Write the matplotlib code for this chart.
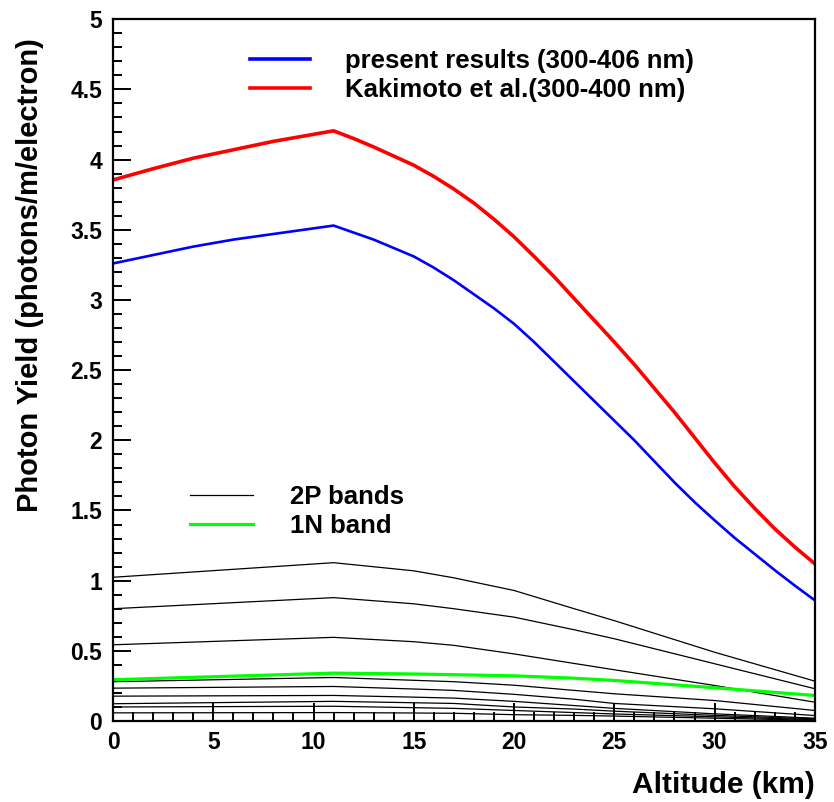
import numpy as np
import matplotlib
matplotlib.use("Agg")
import matplotlib.pyplot as plt
from matplotlib.ticker import MultipleLocator, FuncFormatter

plt.rcParams['font.family'] = ['Liberation Sans', 'DejaVu Sans']
plt.rcParams['font.weight'] = 'bold'

# altitude grid (km) for the total yields
alt = [0, 2, 4, 6, 8, 10, 11, 12, 13, 14, 15, 16, 17, 18, 19, 20, 21, 22,
       23, 24, 25, 26, 27, 28, 29, 30, 31, 32, 33, 34, 35]

present = [3.26, 3.32, 3.38, 3.43, 3.47, 3.51, 3.53, 3.48, 3.43, 3.37, 3.31,
           3.23, 3.14, 3.04, 2.94, 2.83, 2.70, 2.56, 2.42, 2.28, 2.14, 2.00,
           1.85, 1.70, 1.56, 1.43, 1.305, 1.19, 1.075, 0.965, 0.86]

kakimoto = [3.855, 3.935, 4.01, 4.07, 4.13, 4.18, 4.205, 4.15, 4.09, 4.025,
            3.96, 3.88, 3.79, 3.69, 3.575, 3.45, 3.31, 3.165, 3.01, 2.855,
            2.70, 2.54, 2.37, 2.20, 2.02, 1.84, 1.67, 1.515, 1.37, 1.24, 1.12]

# altitude grid (km) for the individual bands
alt_b = [0, 11, 15, 17, 20, 23, 25, 30, 35]

band_1n = [0.294, 0.341, 0.335, 0.33, 0.322, 0.305, 0.289, 0.237, 0.182]

bands_2p = [
    [1.024, 1.128, 1.07, 1.02, 0.93, 0.80, 0.715, 0.49, 0.284],
    [0.80, 0.879, 0.835, 0.80, 0.74, 0.65, 0.586, 0.408, 0.23],
    [0.543, 0.596, 0.565, 0.539, 0.478, 0.41, 0.365, 0.253, 0.134],
    [0.28, 0.31, 0.29, 0.28, 0.255, 0.218, 0.194, 0.146, 0.075],
    [0.234, 0.246, 0.228, 0.218, 0.19, 0.155, 0.125, 0.087, 0.039],
    [0.177, 0.182, 0.17, 0.163, 0.14, 0.11, 0.09, 0.051, 0.02],
    [0.123, 0.14, 0.13, 0.125, 0.10, 0.085, 0.07, 0.04, 0.015],
    [0.10, 0.105, 0.095, 0.09, 0.075, 0.06, 0.05, 0.03, 0.01],
    [0.058, 0.06, 0.057, 0.055, 0.045, 0.04, 0.035, 0.02, 0.005],
]

fig = plt.figure(figsize=(8.34, 8.02), dpi=100)
ax = fig.add_axes([0.1355, 0.101, 0.8415, 0.875])

for i, b in enumerate(bands_2p):
    ax.plot(alt_b, b, color='black', lw=0.9, label='2P bands' if i == 0 else None)
l1n, = ax.plot(alt_b, band_1n, color='#00ff00', lw=2.3, label='1N band')
lp, = ax.plot(alt, present, color='#0000ff', lw=1.9, label='present results (300-406 nm)')
lk, = ax.plot(alt, kakimoto, color='#ff0000', lw=2.6, label='Kakimoto et al.(300-400 nm)')

ax.set_xlim(0, 35)
ax.set_ylim(0, 5)
ax.xaxis.set_major_locator(MultipleLocator(5))
ax.xaxis.set_minor_locator(MultipleLocator(1))
ax.yaxis.set_major_locator(MultipleLocator(0.5))
ax.yaxis.set_minor_locator(MultipleLocator(0.1))
ax.yaxis.set_major_formatter(FuncFormatter(lambda v, p: '%g' % v))
ax.xaxis.set_major_formatter(FuncFormatter(lambda v, p: '%g' % v))
ax.tick_params(which='both', direction='in', top=False, right=False, width=1.4)
ax.tick_params(which='major', length=13)
ax.tick_params(which='minor', length=6.5)
ax.tick_params(axis='y', labelsize=16.5, pad=8)
ax.tick_params(axis='x', labelsize=16.5, pad=7)
for s in ax.spines.values():
    s.set_linewidth(1.6)

fig.text(30 / 834, 1 - 38 / 802, 'Photon Yield (photons/m/electron)', rotation=90,
         ha='center', va='top', fontsize=21, fontweight='bold')
fig.text(815 / 834, 1 - 785 / 802, 'Altitude (km)', ha='right', va='center',
         fontsize=21.5, fontweight='bold')

fs = 18.5
leg1 = ax.legend(handles=[lp, lk], loc='upper left', bbox_to_anchor=(0.195, 0.957),
                 frameon=False, fontsize=fs, handlelength=2.33, handletextpad=1.36,
                 labelspacing=0.16, borderpad=0, borderaxespad=0)
for h in leg1.get_lines():
    h.set_linewidth(2.6)
ax.add_artist(leg1)
h2p = ax.get_lines()[0]
leg2 = ax.legend(handles=[h2p, l1n], loc='upper left', bbox_to_anchor=(0.1097, 0.336),
                 frameon=False, fontsize=fs, handlelength=2.45, handletextpad=1.44,
                 labelspacing=0.2, borderpad=0, borderaxespad=0)

fig.savefig('out.png', dpi=100)
